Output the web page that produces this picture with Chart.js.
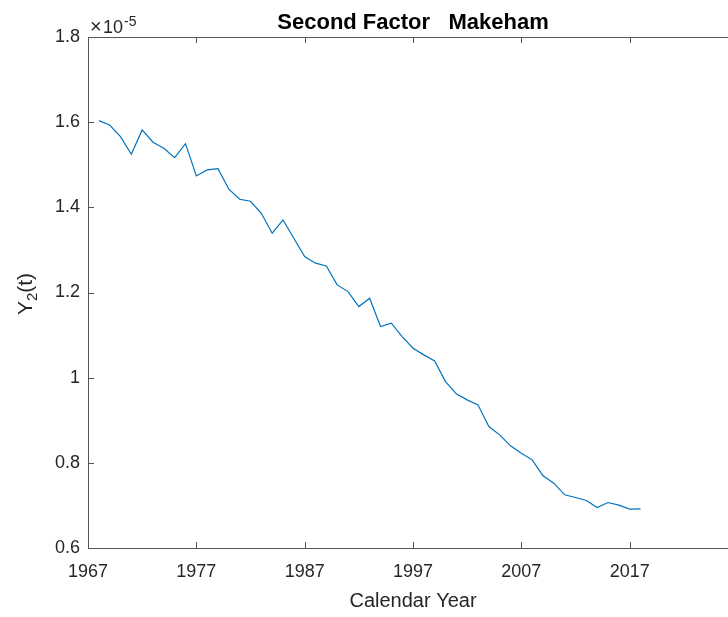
<!DOCTYPE html>
<html>
<head>
<meta charset="utf-8">
<script src="https://cdn.jsdelivr.net/npm/chart.js@4"></script>
<style>
  html, body { margin: 0; padding: 0; background: #fff; overflow: hidden; }
  #wrap { width: 750px; height: 617px; }
</style>
</head>
<body>
<div id="wrap"><canvas id="factorChart" width="750" height="617"></canvas></div>
<script>
// values are in units of 1e-5 (the axis shows the x10^-5 multiplier)
const years = [];
for (let yr = 1968; yr <= 2018; yr++) years.push(yr);

const y2Values = [
  1.6035, 1.5934, 1.5660, 1.5246, 1.5817, 1.5528, 1.5387, 1.5167, 1.5495, 1.4737,
  1.4878, 1.4909, 1.4425, 1.4190, 1.4143, 1.3861, 1.3392, 1.3704, 1.3275, 1.2843,
  1.2688, 1.2624, 1.2178, 1.2021, 1.1669, 1.1866, 1.1200, 1.1279, 1.0965, 1.0692,
  1.0535, 1.0394, 0.9909, 0.9620, 0.9479, 0.9362, 0.8852, 0.8657, 0.8399, 0.8227,
  0.8070, 0.7695, 0.7523, 0.7249, 0.7186, 0.7115, 0.6950, 0.7068, 0.7007, 0.6913,
  0.6920
];

const xTickYears = [1967, 1977, 1987, 1997, 2007, 2017];
const yTickValues = [0.6, 0.8, 1.0, 1.2, 1.4, 1.6, 1.8];

const AXIS_COLOR = '#555555';
const TEXT_COLOR = '#262626';
const FONT = '"Liberation Sans", Arial, sans-serif';

// MATLAB-like box: full frame, inward ticks, title, labels
const matlabBox = {
  id: 'matlabBox',
  afterDraw(chart) {
    const { ctx, chartArea: a, scales: { x, y } } = chart;
    const tick = 6;
    ctx.save();
    ctx.strokeStyle = AXIS_COLOR;
    ctx.lineWidth = 1;
    ctx.strokeRect(a.left + 0.5, a.top + 0.5, a.right - a.left, a.bottom - a.top);
    ctx.beginPath();
    x.ticks.forEach(t => {
      const px = Math.round(x.getPixelForValue(t.value)) + 0.5;
      ctx.moveTo(px, a.bottom); ctx.lineTo(px, a.bottom - tick);
      ctx.moveTo(px, a.top); ctx.lineTo(px, a.top + tick);
    });
    y.ticks.forEach(t => {
      const py = Math.round(y.getPixelForValue(t.value)) + 0.5;
      ctx.moveTo(a.left, py); ctx.lineTo(a.left + tick, py);
      ctx.moveTo(a.right, py); ctx.lineTo(a.right - tick, py);
    });
    ctx.stroke();

    const cx = (a.left + a.right) / 2;

    // title
    ctx.fillStyle = '#000';
    ctx.font = 'bold 22px ' + FONT;
    ctx.textAlign = 'center';
    ctx.textBaseline = 'middle';
    ctx.fillText('Second Factor   Makeham', cx, 23);

    // x label
    ctx.fillStyle = TEXT_COLOR;
    ctx.font = '20px ' + FONT;
    ctx.fillText('Calendar Year', cx, 601);

    // exponent label
    ctx.textAlign = 'left';
    ctx.textBaseline = 'alphabetic';
    ctx.font = '20px ' + FONT;
    ctx.fillText('\u00d7', a.left + 2, 33);
    ctx.font = '18px ' + FONT;
    ctx.fillText('10', a.left + 15, 33);
    ctx.font = '14px ' + FONT;
    ctx.fillText('-5', a.left + 36, 26);

    // y label with subscript
    ctx.translate(26, 294);
    ctx.rotate(-Math.PI / 2);
    const p1 = 'Y', p2 = '2', p3 = '(t)';
    ctx.font = '21px ' + FONT; const w1 = ctx.measureText(p1).width;
    ctx.font = '15px ' + FONT; const w2 = ctx.measureText(p2).width;
    ctx.font = '21px ' + FONT; const w3 = ctx.measureText(p3).width;
    let sx = -(w1 + w2 + w3) / 2;
    ctx.textBaseline = 'middle';
    ctx.font = '21px ' + FONT; ctx.fillText(p1, sx, 0); sx += w1;
    ctx.font = '15px ' + FONT; ctx.fillText(p2, sx, 7); sx += w2;
    ctx.font = '21px ' + FONT; ctx.fillText(p3, sx, 0);
    ctx.restore();
  }
};

new Chart(document.getElementById('factorChart').getContext('2d'), {
  type: 'line',
  data: {
    labels: years,
    datasets: [{
      data: years.map((yr, i) => ({ x: yr, y: y2Values[i] })),
      borderColor: '#0072BD',
      borderWidth: 1.2,
      pointRadius: 0,
      tension: 0,
      fill: false
    }]
  },
  options: {
    responsive: false,
    animation: false,
    layout: { padding: { left: 0, top: 37, right: 12, bottom: 0 } },
    plugins: {
      legend: { display: false },
      tooltip: { enabled: false }
    },
    scales: {
      x: {
        type: 'linear',
        min: 1967,
        max: 2027,
        grid: { display: false, drawTicks: false },
        border: { display: false },
        afterBuildTicks: scale => { scale.ticks = xTickYears.map(v => ({ value: v })); },
        afterFit: scale => { scale.height = 69; },
        ticks: {
          color: TEXT_COLOR,
          font: { family: FONT, size: 18 },
          padding: 13,
          maxRotation: 0,
          callback: v => String(v)
        }
      },
      y: {
        min: 0.6,
        max: 1.8,
        grid: { display: false, drawTicks: false },
        border: { display: false },
        afterBuildTicks: scale => { scale.ticks = yTickValues.map(v => ({ value: v })); },
        afterFit: scale => { scale.width = 88; },
        ticks: {
          color: TEXT_COLOR,
          font: { family: FONT, size: 18 },
          padding: 8,
          callback: v => (Math.round(v * 10) / 10).toString()
        }
      }
    }
  },
  plugins: [matlabBox]
});
</script>
</body>
</html>
